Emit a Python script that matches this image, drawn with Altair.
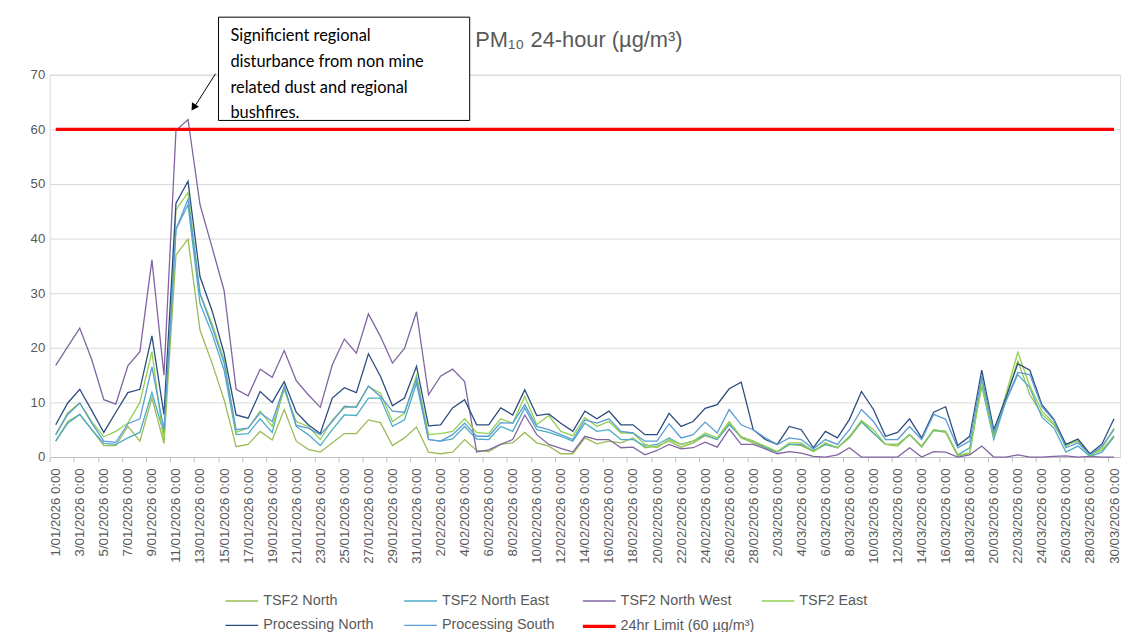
import altair as alt
import pandas as pd

# ---- categories (daily, 1 Jan 2026 - 30 Mar 2026) ----
DATES = pd.date_range("2026-01-01", "2026-03-30", freq="D")
LABELS = [f"{d.day}/{d.month:02d}/{d.year} 0:00" for d in DATES]
TICK_LABELS = LABELS[::2]

# ---- series values (µg/m³) ----
TSF2_NORTH = [2.9, 6.5, 7.8, 5.0, 2.1, 2.1, 5.6, 2.9, 10.8, 2.5,
              37.0, 39.9, 23.2, 17.2, 10.5, 1.9, 2.3, 4.7, 3.1, 8.7,
              2.9, 1.4, 0.9, 2.6, 4.3, 4.3, 6.8, 6.3, 2.1, 3.5,
              5.5, 0.9, 0.6, 0.9, 3.2, 1.2, 1.0, 2.3, 2.6, 4.5,
              2.6, 2.0, 0.6, 0.6, 3.5, 2.4, 2.9, 2.6, 3.5, 1.7,
              2.0, 2.9, 1.8, 2.6, 3.9, 3.2, 6.2, 3.5, 2.6, 1.7,
              0.9, 2.3, 2.1, 1.0, 2.3, 1.7, 3.5, 6.4, 4.3, 2.3,
              2.0, 4.1, 1.8, 4.9, 4.5, 0.2, 0.6, 14.2, 3.5, 10.8,
              17.6, 11.4, 7.8, 5.9, 2.3, 2.9, 0.4, 1.3, 3.9]
TSF2_NORTH_EAST = [2.9, 6.2, 7.8, 5.0, 2.5, 2.3, 3.5, 4.5, 11.8, 4.3,
                   41.7, 46.2, 28.1, 22.6, 15.9, 4.1, 4.3, 7.0, 4.5, 12.9,
                   5.6, 4.1, 2.1, 5.0, 7.7, 7.6, 10.8, 10.8, 5.6, 6.8,
                   13.5, 3.2, 2.9, 3.3, 5.6, 3.3, 3.2, 5.6, 4.7, 9.0,
                   5.0, 4.5, 3.8, 2.9, 6.2, 4.7, 5.0, 3.2, 3.2, 2.0,
                   2.3, 3.5, 2.3, 2.9, 4.1, 3.2, 5.9, 3.7, 2.9, 1.8,
                   0.9, 2.3, 2.3, 1.2, 2.3, 1.7, 3.7, 6.5, 4.4, 2.3,
                   2.3, 4.1, 2.0, 4.9, 4.7, 0.4, 1.7, 13.0, 3.2, 10.2,
                   15.1, 12.7, 7.3, 5.3, 0.9, 2.0, 0.1, 0.9, 3.7]
TSF2_NORTH_WEST = [16.8, 20.2, 23.6, 17.8, 10.5, 9.7, 16.7, 19.3, 36.1, 15.0,
                   59.8, 61.8, 46.2, 38.4, 30.5, 12.4, 11.2, 16.1, 14.6, 19.5,
                   14.0, 11.4, 9.1, 16.9, 21.6, 19.0, 26.2, 22.1, 17.2, 19.9,
                   26.6, 11.4, 14.8, 16.1, 13.8, 0.9, 1.3, 2.3, 3.2, 7.7,
                   4.1, 2.3, 1.6, 0.9, 3.8, 3.2, 3.2, 1.7, 1.8, 0.4,
                   1.2, 2.3, 1.5, 1.7, 2.7, 1.8, 5.1, 2.3, 2.3, 1.5,
                   0.6, 1.0, 0.7, 0.1, 0.0, 0.4, 1.7, 0.0, 0.0, 0.0,
                   0.0, 1.7, 0.0, 1.0, 0.9, 0.0, 0.4, 2.0, 0.0, 0.0,
                   0.4, 0.0, 0.0, 0.1, 0.2, 0.0, 0.1, 0.0, 0.0]
TSF2_EAST = [4.1, 8.1, 9.9, 6.5, 3.7, 4.7, 6.2, 10.0, 19.3, 2.6,
             45.3, 48.4, 29.9, 24.4, 17.8, 4.5, 5.3, 8.4, 5.6, 12.3,
             6.5, 5.6, 3.2, 6.8, 9.0, 9.3, 12.9, 11.7, 6.5, 8.0,
             14.9, 4.1, 4.3, 4.7, 7.0, 4.5, 4.3, 7.0, 6.2, 11.1,
             5.9, 7.6, 4.7, 3.9, 7.2, 5.6, 6.5, 4.4, 4.4, 2.3,
             1.7, 3.2, 2.3, 2.9, 4.4, 3.5, 6.5, 3.7, 2.9, 2.0,
             1.0, 2.6, 2.6, 1.0, 2.6, 1.7, 3.8, 6.7, 5.0, 2.3,
             2.3, 4.1, 2.0, 5.0, 4.7, 0.4, 0.7, 13.3, 3.8, 11.4,
             19.2, 13.0, 8.4, 6.2, 2.0, 3.2, 0.2, 1.7, 5.3]
PROCESSING_NORTH = [5.9, 9.9, 12.4, 8.5, 4.5, 8.2, 11.8, 12.4, 22.2, 7.8,
                    46.5, 50.5, 33.0, 26.8, 19.0, 7.7, 7.1, 12.0, 10.0, 13.8,
                    8.2, 5.9, 4.3, 10.8, 12.7, 11.8, 18.9, 14.8, 9.4, 10.8,
                    16.6, 5.7, 5.9, 9.0, 10.5, 5.9, 5.9, 9.0, 7.7, 12.3,
                    7.6, 7.9, 6.2, 4.7, 8.4, 7.0, 8.4, 5.9, 5.9, 4.1,
                    4.1, 8.0, 5.6, 6.5, 8.9, 9.6, 12.5, 13.7, 5.0, 3.2,
                    2.3, 5.6, 5.0, 1.7, 4.7, 3.5, 6.9, 12.0, 8.7, 3.8,
                    4.5, 7.0, 3.5, 8.2, 9.2, 2.1, 3.8, 15.9, 5.0, 10.8,
                    17.1, 15.9, 9.6, 6.9, 2.3, 3.3, 0.6, 2.4, 7.0]
PROCESSING_SOUTH = [4.1, 7.8, 9.9, 6.2, 2.9, 2.7, 6.1, 7.0, 16.5, 5.0,
                    41.7, 47.2, 29.9, 23.8, 17.2, 5.0, 5.3, 8.1, 6.5, 12.9,
                    5.8, 5.3, 4.1, 6.5, 9.3, 9.1, 13.0, 11.1, 8.4, 8.2,
                    14.3, 3.2, 2.9, 4.1, 6.2, 3.8, 3.8, 6.3, 6.2, 9.6,
                    5.6, 5.0, 4.1, 3.2, 6.8, 6.2, 7.0, 4.7, 4.4, 2.9,
                    2.9, 6.1, 3.5, 4.1, 6.4, 4.4, 8.7, 5.9, 5.0, 3.5,
                    2.3, 3.5, 3.2, 1.5, 3.2, 2.3, 5.0, 8.7, 6.5, 3.2,
                    3.2, 5.6, 3.2, 7.8, 6.9, 1.7, 2.9, 14.8, 4.4, 10.2,
                    15.5, 15.1, 9.2, 6.7, 1.7, 2.6, 0.4, 2.0, 5.0]
LIMIT = 60

SERIES = ["TSF2 North", "TSF2 North East", "TSF2 North West", "TSF2 East",
          "Processing North", "Processing South", "24hr Limit (60 µg/m³)"]
COLORS = ["#9BBB59", "#4BACC6", "#8064A2", "#92D050",
          "#2B4C7E", "#5B9BD5", "#FF0000"]
WIDTHS = [1.3, 1.3, 1.3, 1.3, 1.3, 1.3, 3.2]

VALUES = [TSF2_NORTH, TSF2_NORTH_EAST, TSF2_NORTH_WEST, TSF2_EAST,
          PROCESSING_NORTH, PROCESSING_SOUTH]

ANNOTATION = ("Significient regional\ndisturbance from non mine\n"
              "related dust and regional\nbushfires.")
TITLE = "PM\u2081\u2080 24-hour (µg/m³)"

rows = []
for name, vals in zip(SERIES[:6], VALUES):
    for lab, v in zip(LABELS, vals):
        rows.append({"date": lab, "value": v, "series": name})
for lab in (LABELS[0], LABELS[-1]):
    rows.append({"date": lab, "value": LIMIT, "series": SERIES[6]})
df = pd.DataFrame(rows)

legend = alt.Legend(
    title=None, orient="none", legendX=175, legendY=512, columns=4,
    direction="horizontal",
    symbolType="stroke", symbolSize=1089, labelFontSize=14.5,
    labelColor="#595959", labelFont="Liberation Sans", labelOffset=3,
    columnPadding=0, rowPadding=-5, gridAlign="all", labelLimit=300,
)

lines = alt.Chart(df).mark_line().encode(
    x=alt.X("date:N", sort=LABELS,
            scale=alt.Scale(type="point", padding=0.5),
            axis=alt.Axis(values=TICK_LABELS, labelAngle=-90, title=None,
                          labelFontSize=13.3, labelColor="#595959",
                          labelFont="Liberation Sans", domainColor="#bfbfbf",
                          tickColor="#bfbfbf", tickSize=5, tickOffset=-6,
                          labelOffset=6, labelPadding=6, grid=False,
                          labelOverlap=False)),
    y=alt.Y("value:Q", scale=alt.Scale(domain=[0, 70], nice=False),
            axis=alt.Axis(values=list(range(0, 80, 10)), title=None,
                          labelFontSize=13.3, labelColor="#595959",
                          labelFont="Liberation Sans", domain=False,
                          ticks=False, labelPadding=5, gridColor="#d9d9d9")),
    color=alt.Color("series:N", scale=alt.Scale(domain=SERIES, range=COLORS),
                    legend=legend),
    strokeWidth=alt.StrokeWidth("series:N",
                                scale=alt.Scale(type="ordinal", domain=SERIES,
                                                range=WIDTHS),
                                legend=legend),
)

one = pd.DataFrame({"k": [0]})
title = alt.Chart(one).mark_text(
    align="center", baseline="middle", font="Liberation Sans", fontSize=22,
    color="#595959").encode(
    x=alt.value(533), y=alt.value(-35), text=alt.value(TITLE))
box = alt.Chart(one).mark_rect(fill="white", stroke="black",
                               strokeWidth=1).encode(
    x=alt.value(170), x2=alt.value(423), y=alt.value(-58), y2=alt.value(46))
txt = alt.Chart(one).mark_text(
    align="left", baseline="top", lineBreak="\n", lineHeight=26,
    font="Lato", fontSize=16.5, color="black").encode(
    x=alt.value(182), y=alt.value(-47), text=alt.value(ANNOTATION))
arrow = alt.Chart(one).mark_rule(color="black", strokeWidth=1).encode(
    x=alt.value(167), y=alt.value(-1), x2=alt.value(146), y2=alt.value(32))
head = alt.Chart(one).mark_point(shape="triangle", filled=True, size=70,
                                 angle=213, color="black", opacity=1).encode(
    x=alt.value(145.5), y=alt.value(32))

chart = alt.layer(lines, title, box, txt, arrow, head).properties(
    width=1078, height=385,
    autosize=alt.AutoSizeParams(type="none"),
    padding={"left": 42, "top": 65, "right": 7, "bottom": 174},
).configure_view(stroke=None).configure(background="white")

chart.save("out.html", embed_options={"renderer": "svg", "actions": False})
